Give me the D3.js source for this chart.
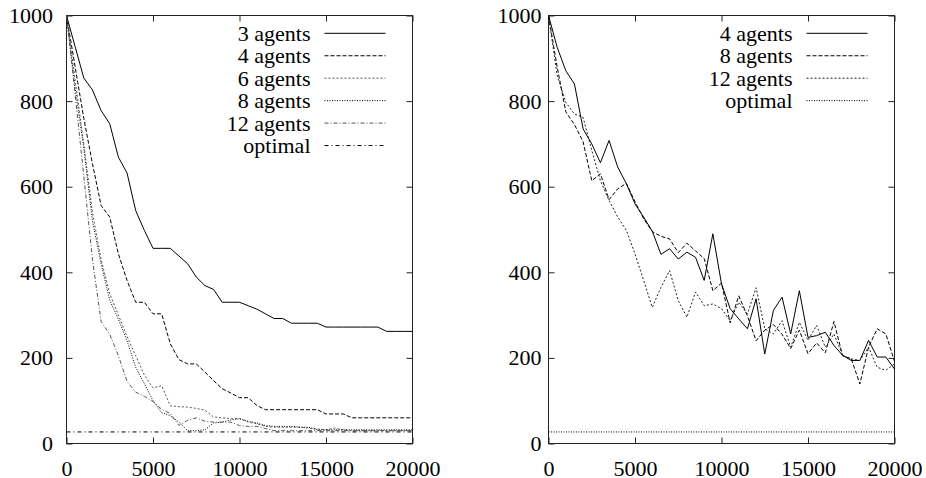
<!DOCTYPE html>
<html>
<head>
<meta charset="utf-8">
<script src="https://cdn.jsdelivr.net/npm/d3@7/dist/d3.min.js"></script>
<style>
  body { margin: 0; background: #fff; }
</style>
</head>
<body>
<div id="chart"></div>
<script>
// sample positions (iterations)
var steps = [0, 500, 1000, 1500, 2000, 2500, 3000, 3500, 4000, 4500,
             5000, 5500, 6000, 6500, 7000, 7500, 8000, 8500, 9000, 9500,
             10000, 10500, 11000, 11500, 12000, 12500, 13000, 13500, 14000, 14500,
             15000, 15500, 16000, 16500, 17000, 17500, 18000, 18500, 19000, 19500, 20000];
var optimalX = [0, 20000];

// left panel
var agents3 = [1000, 927, 854, 826, 778, 747, 669, 632, 544, 498,
               456, 456, 456, 438, 420, 389, 369, 360, 330, 330,
               330, 322, 314, 303, 292, 292, 281, 281, 281, 281,
               272, 272, 272, 272, 272, 272, 272, 262, 262, 262, 262];
var agents4 = [1000, 880, 760, 654, 556, 529, 443, 381, 330, 330,
               303, 303, 233, 196, 186, 186, 167, 147, 128, 118,
               107, 107, 89, 79, 79, 79, 79, 79, 79, 79,
               69, 69, 69, 60, 60, 60, 60, 60, 60, 60, 60];
var agents6 = [1000, 850, 700, 540, 430, 350, 300, 250, 205, 160,
               130, 135, 88, 86, 85, 82, 78, 62, 60, 58,
               58, 50, 46, 40, 38, 38, 38, 38, 36, 34,
               32, 36, 32, 30, 30, 30, 30, 30, 30, 30, 30];
var agents8 = [1000, 830, 690, 520, 420, 335, 290, 240, 178, 140,
               100, 72, 65, 50, 30, 30, 32, 48, 50, 55,
               58, 52, 48, 42, 40, 40, 40, 38, 38, 32,
               32, 32, 32, 32, 32, 32, 32, 32, 32, 32, 32];
var agents12 = [1000, 815, 625, 430, 285, 255, 205, 145, 120, 110,
                98, 80, 70, 42, 54, 60, 52, 50, 50, 50,
                42, 40, 40, 35, 30, 30, 30, 30, 30, 30,
                30, 30, 30, 30, 30, 30, 30, 30, 30, 30, 30];
var optimalLeft = [27, 27];

// right panel
var r4 = [1000, 926, 871, 840, 735, 700, 656, 708, 646, 607,
          560, 529, 496, 442, 455, 431, 447, 435, 381, 490,
          373, 315, 291, 268, 338, 209, 311, 342, 256, 357,
          248, 252, 260, 229, 206, 194, 194, 241, 202, 202, 174];
var r8 = [1000, 880, 775, 745, 705, 614, 630, 570, 595, 608,
          565, 525, 495, 484, 478, 446, 468, 450, 432, 357,
          375, 282, 345, 298, 240, 265, 278, 255, 222, 265,
          210, 235, 212, 285, 205, 198, 139, 225, 268, 256, 192];
var r12 = [1000, 860, 797, 770, 762, 685, 614, 568, 529, 498,
           443, 381, 318, 365, 404, 334, 295, 354, 322, 326,
           315, 287, 330, 303, 364, 268, 256, 287, 225, 283,
           241, 276, 225, 256, 206, 198, 194, 225, 178, 171, 186];
var optimalRight = [27, 27];

var yTicks = [0, 200, 400, 600, 800, 1000];
var xTicks = [0, 5000, 10000, 15000, 20000];

var W = 346, H = 428, top0 = 15.5;
var FONT = "Liberation Serif";

var svg = d3.select("#chart").append("svg")
    .attr("width", 926)
    .attr("height", 478);

function panel(left, labelGap, series) {
    var g = svg.append("g").attr("transform", "translate(" + left + "," + top0 + ")");

    var xScale = d3.scaleLinear().domain([0, 20000]).range([0, W]);
    var yScale = d3.scaleLinear().domain([0, 1000]).range([H, 0]);
    var fmt = d3.format("d");

    // axes with inward ticks (gnuplot style), mirrored on all sides
    g.append("g").call(d3.axisLeft(yScale).tickValues(yTicks).tickFormat(fmt)
        .tickSizeInner(-6).tickSizeOuter(0).tickPadding(labelGap));
    var xb = g.append("g").attr("transform", "translate(0," + H + ")")
        .call(d3.axisBottom(xScale).tickValues(xTicks).tickFormat(fmt)
            .tickSizeInner(-6).tickSizeOuter(0));
    xb.selectAll("text").attr("dy", null).attr("y", 32);
    g.append("g").attr("transform", "translate(" + W + ",0)")
        .call(d3.axisRight(yScale).tickValues(yTicks).tickSizeInner(-6).tickSizeOuter(0).tickFormat(""));
    g.append("g")
        .call(d3.axisTop(xScale).tickValues(xTicks).tickSizeInner(-6).tickSizeOuter(0).tickFormat(""));
    g.selectAll(".domain").remove();
    g.selectAll(".tick line").attr("stroke", "#222");
    g.selectAll(".tick text")
        .attr("font-family", FONT)
        .attr("font-size", 22)
        .attr("fill", "#000");

    g.append("rect")
        .attr("width", W).attr("height", H)
        .attr("fill", "none")
        .attr("stroke", "#222")
        .attr("stroke-width", 1);

    var line = d3.line()
        .x(function (d) { return xScale(d[0]); })
        .y(function (d) { return yScale(d[1]); });

    series.forEach(function (s, i) {
        g.append("path")
            .datum(d3.zip(s.xs, s.values))
            .attr("fill", "none")
            .attr("stroke", s.color)
            .attr("stroke-width", 1)
            .attr("stroke-dasharray", s.dash)
            .attr("d", line);

        // legend
        var ly = 17.8 + i * 22.45;
        g.append("text")
            .attr("x", W - 102)
            .attr("y", ly + 7.5)
            .attr("text-anchor", "end")
            .attr("font-family", FONT)
            .attr("font-size", 22)
            .text(s.name);
        g.append("line")
            .attr("x1", W - 88).attr("x2", W - 27)
            .attr("y1", ly).attr("y2", ly)
            .attr("stroke", s.color)
            .attr("stroke-width", 1)
            .attr("stroke-dasharray", s.dash);
    });
}

panel(66.5, 13.5, [
    { name: "3 agents", xs: steps, values: agents3, color: "#000", dash: null },
    { name: "4 agents", xs: steps, values: agents4, color: "#000", dash: "4,2" },
    { name: "6 agents", xs: steps, values: agents6, color: "#555", dash: "2,2" },
    { name: "8 agents", xs: steps, values: agents8, color: "#000", dash: "1,1.5" },
    { name: "12 agents", xs: steps, values: agents12, color: "#555", dash: "4,2,1,2" },
    { name: "optimal", xs: optimalX, values: optimalLeft, color: "#000", dash: "4,3,1,3" }
]);

panel(548.5, 7, [
    { name: "4 agents", xs: steps, values: r4, color: "#000", dash: null },
    { name: "8 agents", xs: steps, values: r8, color: "#000", dash: "4,2" },
    { name: "12 agents", xs: steps, values: r12, color: "#222", dash: "2,2" },
    { name: "optimal", xs: optimalX, values: optimalRight, color: "#000", dash: "1,1.5" }
]);
</script>
</body>
</html>
